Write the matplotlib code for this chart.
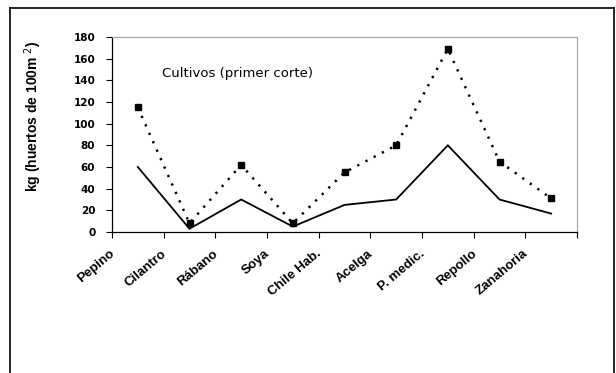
import matplotlib
matplotlib.use("Agg")
import matplotlib.pyplot as plt
from matplotlib.lines import Line2D
import numpy as np

# Rendimiento por cultivo, primer corte
cultivos = ["Pepino", "Cilantro", "Rábano", "Soya", "Chile Hab.",
            "Acelga", "P. medic.", "Repollo", "Zanahoria"]
serie_linea = [60, 3, 30, 5, 25, 30, 80, 30, 17]
serie_puntos = [115, 8, 62, 8, 55, 80, 169, 65, 31]
y_ticks = [0, 20, 40, 60, 80, 100, 120, 140, 160, 180]

plt.rcParams['font.family'] = ['Liberation Sans', 'DejaVu Sans']

fig = plt.figure(figsize=(6.16, 3.73), dpi=100)
ax = fig.add_axes([112 / 616, 1 - 232 / 373, 465 / 616, 195 / 373])

x = np.arange(len(cultivos))
ax.plot(x, serie_linea, color='black', lw=1.3, solid_joinstyle='miter')
ax.plot(x, serie_puntos, color='black', lw=1.8, linestyle=(0, (0.9, 2.8)),
        marker='s', markersize=5, markerfacecolor='black')

ax.set_xlim(-0.5, len(cultivos) - 0.5)
ax.set_ylim(0, 180)
ax.set_yticks(y_ticks)
ax.set_yticklabels([str(v) for v in y_ticks], fontsize=7.5,
                   fontweight='bold', family='DejaVu Sans')
ax.set_xticks(np.arange(len(cultivos) + 1) - 0.5)
ax.set_xticklabels([])
ax.tick_params(axis='both', direction='out', length=4, width=0.8, color='black')
ax.tick_params(axis='y', pad=8)

for side in ('top', 'right'):
    ax.spines[side].set_color('#a0a0a0')
    ax.spines[side].set_linewidth(0.8)
for side in ('left', 'bottom'):
    ax.spines[side].set_color('black')
    ax.spines[side].set_linewidth(0.9)

# Etiquetas de categoria, alineadas al borde izquierdo de cada celda
for i, nombre in enumerate(cultivos):
    ax.text(i - 0.55, -0.08, nombre, transform=ax.get_xaxis_transform(),
            rotation=40, ha='right', va='top', rotation_mode='anchor',
            fontsize=9.5, fontweight='bold')

fig.text(162 / 616, 1 - 74 / 373, "Cultivos (primer corte)",
         fontsize=9.5, family='DejaVu Sans', ha='left', va='center')

fig.text(33 / 616, 1 - 116 / 373, r"kg (huertos de 100m $^{2}$)",
         rotation=90, ha='center', va='center', fontsize=10, fontweight='bold')

# Marco exterior del grafico
for xs, ys in [([10 / 616, 10 / 616], [0, 1 - 8 / 373]),
               ([614 / 616, 614 / 616], [0, 1 - 8 / 373]),
               ([10 / 616, 614 / 616], [1 - 8 / 373, 1 - 8 / 373])]:
    fig.add_artist(Line2D(xs, ys, transform=fig.transFigure,
                          color='black', lw=1.2))

fig.savefig("out.png", dpi=100)
